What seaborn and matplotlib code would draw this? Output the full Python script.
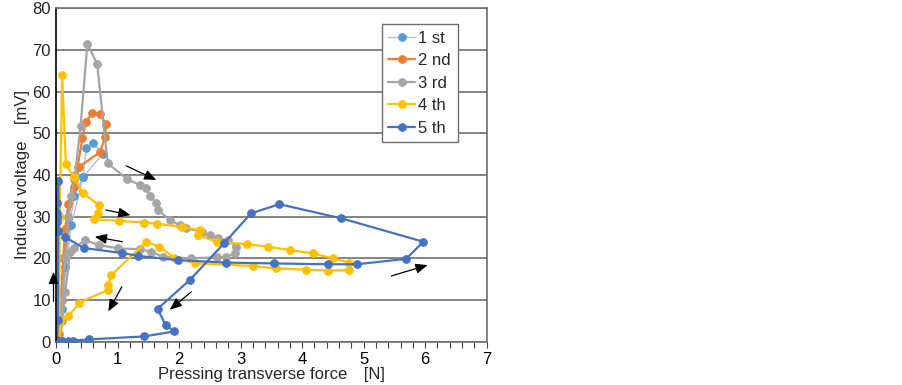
import matplotlib
matplotlib.use("Agg")
import matplotlib.pyplot as plt
from matplotlib.ticker import MultipleLocator
import seaborn as sns

# data (force [N], voltage [mV])
labels = ["1 st", "2 nd", "3 rd", "4 th", "5 th"]
line_colors = ["#A9C4D8", "#ED7D31", "#A5A5A5", "#FFC000", "#4472C4"]
marker_colors = ["#5B9BD5", "#ED7D31", "#A5A5A5", "#FFC000", "#4472C4"]

x1 = [0.05, 0.10, 0.15, 0.22, 0.30, 0.44, 0.49, 0.60, 0.76, 0.44, 0.25, 0.12, 0.06]
y1 = [0.0, 8.0, 18.0, 28.0, 35.0, 39.5, 46.5, 47.7, 45.0, 39.5, 28.0, 12.0, 0.5]

x2 = [0.04, 0.08, 0.12, 0.15, 0.20, 0.29, 0.35, 0.43, 0.48, 0.59, 0.71, 0.81, 0.80, 0.71,
      0.38, 0.30, 0.20, 0.13, 0.09, 0.05]
y2 = [0.0, 10.0, 20.0, 27.0, 33.0, 39.0, 42.0, 48.8, 52.6, 54.8, 54.6, 52.3, 49.0, 45.4,
      42.0, 37.0, 30.0, 20.0, 10.0, 2.0]

x3 = [0.05, 0.10, 0.15, 0.20, 0.25, 0.31, 0.40, 0.51, 0.67, 0.84, 1.16, 1.36, 1.46, 1.53,
      1.63, 1.66, 1.85, 2.01, 2.12, 2.37, 2.50, 2.63, 2.79, 2.93, 2.91, 2.77, 2.61, 2.20,
      1.74, 1.55, 1.36, 1.01, 0.70, 0.47, 0.30, 0.23, 0.15, 0.10, 0.06]
y3 = [0.0, 10.0, 20.0, 30.0, 35.0, 40.0, 51.8, 71.5, 66.5, 42.8, 39.0, 37.6, 36.9, 35.0,
      33.2, 31.6, 29.2, 28.0, 27.2, 26.4, 25.5, 24.8, 24.4, 22.8, 21.2, 20.4, 20.3, 20.0,
      20.4, 21.6, 22.2, 22.4, 23.2, 24.4, 22.5, 21.6, 12.0, 5.0, 0.5]

x4 = [0.05, 0.06, 0.10, 0.16, 0.29, 0.44, 0.70, 0.69, 0.61, 1.02, 1.43, 1.64, 2.04, 2.34,
      2.31, 2.61, 3.11, 3.44, 3.80, 4.18, 4.51, 4.77, 4.77, 4.42, 4.07, 3.58, 3.20, 2.26,
      1.92, 1.68, 1.47, 0.90, 0.85, 0.85, 0.38, 0.20, 0.07, 0.05]
y4 = [0.0, 30.0, 64.0, 42.6, 39.6, 35.6, 32.8, 30.8, 29.4, 29.0, 28.6, 28.3, 27.6, 26.8,
      25.6, 24.0, 23.4, 22.8, 22.0, 21.2, 20.0, 19.0, 17.2, 17.1, 17.3, 17.6, 18.2, 18.8,
      20.2, 22.8, 24.0, 16.0, 13.7, 12.5, 9.4, 6.1, 4.9, 0.5]

x5 = [0.04, 0.10, 0.20, 0.27, 0.54, 1.43, 1.92, 1.78, 1.65, 2.18, 2.73, 3.17, 3.63, 4.64,
      5.97, 5.69, 4.89, 4.42, 3.55, 2.77, 1.98, 1.34, 1.07, 0.45, 0.15, 0.04, 0.01, 0.02,
      0.01, 0.01, 0.04, 0.03, 0.02]
y5 = [0.0, 0.1, 0.1, 0.3, 0.6, 1.3, 2.5, 4.1, 7.9, 14.9, 23.6, 30.8, 33.0, 29.6,
      24.0, 19.9, 18.6, 18.6, 18.8, 19.0, 19.6, 20.6, 21.3, 22.5, 25.1, 26.6, 28.8, 30.0,
      31.0, 33.2, 38.6, 5.3, 0.4]

xs_all = [x1, x2, x3, x4, x5]
ys_all = [y1, y2, y3, y4, y5]
widths = [1.0, 1.6, 1.6, 1.6, 1.6]

# direction arrows (tail x, tail y, head x, head y)
arrows = [(1.14, 42.2, 1.63, 38.8),
          (0.81, 31.6, 1.21, 30.4),
          (1.08, 24.0, 0.63, 25.2),
          (-0.04, 9.7, -0.04, 16.8),
          (1.07, 13.2, 0.85, 7.3),
          (2.20, 12.0, 1.85, 7.7),
          (5.45, 15.8, 6.04, 18.4)]

sns.set_style("white")
plt.rcParams["font.family"] = ["Liberation Sans", "DejaVu Sans"]

fig = plt.figure(figsize=(9.03, 3.85), dpi=100)
ax = fig.add_axes([0.062, 0.112, 0.477, 0.867])

for i in range(5):
    sns.lineplot(x=xs_all[i], y=ys_all[i], sort=False, estimator=None, ax=ax,
                 color=line_colors[i], lw=widths[i], marker="o", markersize=5.5,
                 markerfacecolor=marker_colors[i], markeredgecolor=marker_colors[i],
                 label=labels[i])

for tx, ty, hx, hy in arrows:
    ax.annotate("", xy=(hx, hy), xytext=(tx, ty), annotation_clip=False,
                arrowprops=dict(arrowstyle="-|>,head_length=0.72,head_width=0.3",
                                color="black", lw=0.9, mutation_scale=10,
                                shrinkA=0, shrinkB=0))

ax.set_xlim(0, 7)
ax.set_ylim(0, 80)
ax.xaxis.set_major_locator(MultipleLocator(1))
ax.xaxis.set_minor_locator(MultipleLocator(0.2))
ax.yaxis.set_major_locator(MultipleLocator(10))
ax.tick_params(axis="x", which="both", direction="out", length=4, width=0.8,
               colors="#444444", labelcolor="black", labelsize=12, bottom=True)
ax.tick_params(axis="y", length=0, labelsize=12)
ax.grid(axis="y", color="#6E6E6E", lw=1.2)
ax.set_axisbelow(True)
for side in ["top", "right", "bottom"]:
    ax.spines[side].set_color("#6E6E6E")
    ax.spines[side].set_linewidth(1.2)
ax.spines["left"].set_color("black")
ax.spines["left"].set_linewidth(1.2)

ax.set_xlabel("Pressing transverse force\u2003[N]", fontsize=12, labelpad=0)
ax.set_ylabel("Induced voltage\u2003[mV]", fontsize=12, labelpad=2)

leg = ax.legend(loc="upper left", bbox_to_anchor=(0.756, 0.952), borderaxespad=0,
                fontsize=12, frameon=True, fancybox=False, edgecolor="#6E6E6E",
                framealpha=1, handlelength=1.6, handletextpad=0.2, borderpad=0.4,
                labelspacing=0.45)
leg.get_frame().set_linewidth(1.0)

fig.savefig("out.png", dpi=100)
